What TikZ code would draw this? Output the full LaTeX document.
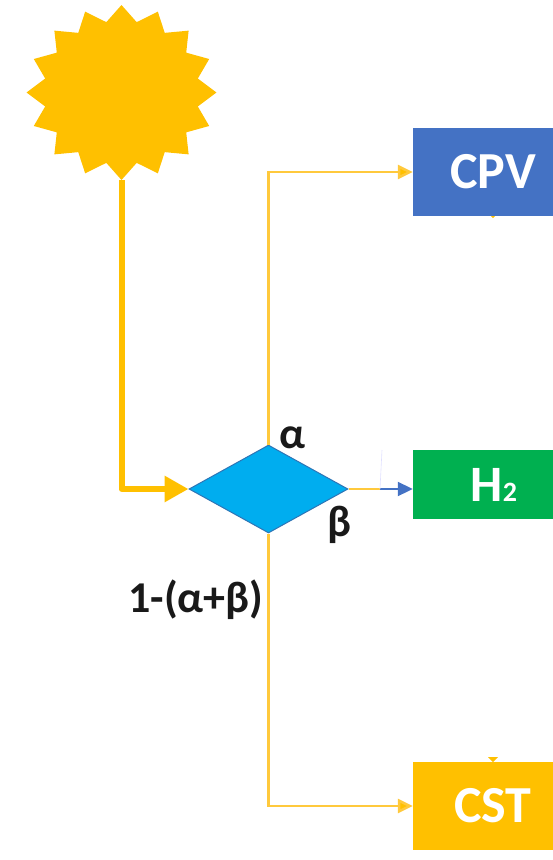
\documentclass[tikz,border=0pt]{standalone}
\usepackage{fontspec}
\setmainfont{Carlito}
\usetikzlibrary{shapes.geometric,arrows.meta}
\definecolor{sunc}{HTML}{FFC000}
\definecolor{linec}{HTML}{FFC93C}
\definecolor{bluec}{HTML}{4472C4}
\definecolor{greenc}{HTML}{00B050}
\definecolor{diac}{HTML}{00ADEF}
\definecolor{diaedge}{HTML}{2E75B6}
\tikzset{
  x=1pt,y=-1pt,
  boxnode/.style={rectangle,draw=none,minimum width=140pt,inner sep=0pt,text=white,font=\bfseries\fontsize{52}{52}\selectfont},
  labelnode/.style={inner sep=0pt,text=black!90,font=\bfseries\fontsize{44}{44}\selectfont},
  thinlink/.style={linec,line width=2.5pt},
  thintip/.style={-{Triangle[length=15pt,width=14pt,fill=sunc]}},
}
\begin{document}
\begin{tikzpicture}
\useasboundingbox (0,0) rectangle (553,860);
\node[star,star points=16,star point ratio=1.22,fill=sunc,draw=none,inner sep=0pt,minimum size=175pt,xscale=1.085,transform shape] (sun) at (121.5,92.5) {};
\node[diamond,aspect=1.807,fill=diac,draw=diaedge,line width=1pt,inner sep=0pt,minimum width=159pt,minimum height=88pt] (dia) at (268.5,489) {};
\node[boxnode,fill=bluec,minimum height=88pt] (cpv) at (483,172) {\hspace{20pt}CPV};
\node[boxnode,fill=greenc,minimum height=69pt] (htwo) at (483,484.5) {\hspace{22pt}\raisebox{-4pt}{\fontsize{51}{51}\selectfont H\fontsize{28}{28}\selectfont 2}};
\node[boxnode,fill=sunc,minimum height=88pt] (cst) at (483,806) {\hspace{20pt}CST};
\coordinate (split) at (380,489);
\coordinate (paleend) at (382,450);
\draw[sunc,line width=6pt,line join=round,-{Triangle[length=24pt,width=25pt]}] (sun.south) |- (dia.west);
\draw[thinlink,thintip] (dia.north) |- (cpv.west);
\draw[thinlink,thintip] (dia.south) |- (cst.west);
\draw[thinlink] (dia.east) -- (split);
\draw[bluec,line width=2pt,-{Triangle[length=15pt,width=14pt]}] (split) -- (htwo.west |- split);
\draw[blue!12,line width=.6pt] (split) -- (paleend);
\fill[sunc] (488,757) -- (498,757) -- (493,762) -- cycle;
\fill[sunc] (491,216) -- (495,216) -- (493,218) -- cycle;
\node[labelnode] (la) at (292,438) {α};
\node[labelnode] (lb) at (339,525) {β};
\node[labelnode] (lc) at (196,600) {1-(α+β)};
\end{tikzpicture}
\end{document}
